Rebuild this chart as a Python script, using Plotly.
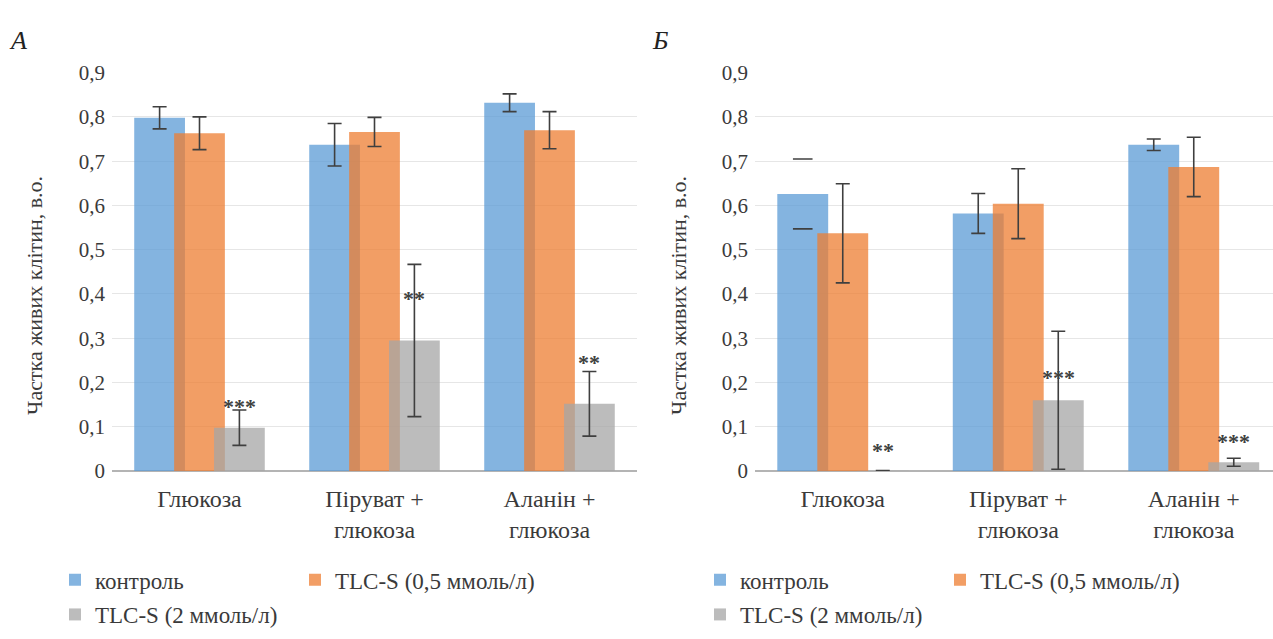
import plotly.graph_objects as go

# ---------------- data ----------------
categories = ["Глюкоза", "Піруват +<br>глюкоза", "Аланін +<br>глюкоза"]
series_names = ["контроль", "TLC-S (0,5 ммоль/л)", "TLC-S (2 ммоль/л)"]

# Panel A
A_control = [0.798, 0.737, 0.832]
A_control_err = [0.025, 0.048, 0.020]
A_tlc05 = [0.763, 0.766, 0.770]
A_tlc05_err = [0.037, 0.033, 0.042]
A_tlc2 = [0.098, 0.295, 0.152]
A_tlc2_err = [0.040, 0.172, 0.073]
A_sig = ["***", "**", "**"]
A_sig_level = [0.158, 0.400, 0.256]

# Panel Б
B_control = [0.626, 0.582, 0.737]
B_control_err = [0.079, 0.045, 0.013]
B_tlc05 = [0.537, 0.604, 0.687]
B_tlc05_err = [0.112, 0.079, 0.067]
B_tlc2 = [0.001, 0.160, 0.020]
B_tlc2_err = [0.0, 0.156, 0.009]
B_sig = ["**", "***", "***"]
B_sig_level = [0.058, 0.222, 0.078]

y_ticks = [0, 0.1, 0.2, 0.3, 0.4, 0.5, 0.6, 0.7, 0.8, 0.9]
y_title = "Частка живих клітин, в.о."

# ---------------- style ----------------
W, H = 1273, 639
FONT = "Liberation Serif, Times New Roman, DejaVu Serif, serif"
TXT = "#3a3a3a"
colors = ["rgba(91,155,213,0.75)", "rgba(237,125,49,0.75)", "rgba(165,165,165,0.75)"]
ERRC = "#3f3f3f"
STEP = 0.228      # distance between bar centres within a group (category units)
BW = 0.29         # bar width (category units)
centre_shift = [-STEP, 0.0, STEP]

x_pos = list(range(len(categories)))

fig = go.Figure()

def err_dict(arr):
    return dict(type="data", array=arr, visible=True, color=ERRC, thickness=1.6, width=7)

def add_panel(vals, errs, xaxis, yaxis, legends, caps_only_bar=None):
    for k in range(3):
        use_bar_err = not (caps_only_bar is not None and caps_only_bar[0] == k)
        fig.add_trace(go.Bar(
            x=x_pos, y=vals[k], name=series_names[k],
            xaxis=xaxis, yaxis=yaxis,
            width=BW, offset=centre_shift[k] - BW / 2,
            marker=dict(color=colors[k], line=dict(width=0)),
            error_y=err_dict(errs[k]) if use_bar_err else dict(visible=False),
            legend=legends[0] if k < 2 else legends[1],
            showlegend=True,
        ))
        if not use_bar_err:
            j = caps_only_bar[1]
            idx = [i for i in x_pos if i != j]
            fig.add_trace(go.Scatter(
                x=[x_pos[i] + centre_shift[k] for i in idx], y=[vals[k][i] for i in idx],
                xaxis=xaxis, yaxis=yaxis, mode="markers", showlegend=False, hoverinfo="skip",
                marker=dict(size=1, opacity=0), error_y=err_dict([errs[k][i] for i in idx]),
            ))
            # in the original this error bar shows only its two caps
            fig.add_trace(go.Scatter(
                x=[x_pos[j] + centre_shift[k]] * 2,
                y=[vals[k][j] + errs[k][j], vals[k][j] - errs[k][j]],
                xaxis=xaxis, yaxis=yaxis, mode="markers", showlegend=False, hoverinfo="skip",
                marker=dict(symbol="line-ew", size=14, line=dict(color=ERRC, width=1.6)),
            ))

add_panel([A_control, A_tlc05, A_tlc2], [A_control_err, A_tlc05_err, A_tlc2_err],
          "x", "y", ["legend", "legend2"])
add_panel([B_control, B_tlc05, B_tlc2], [B_control_err, B_tlc05_err, B_tlc2_err],
          "x2", "y2", ["legend3", "legend4"], caps_only_bar=(0, 0))

for xa, ya, sig, lev in [("x", "y", A_sig, A_sig_level), ("x2", "y2", B_sig, B_sig_level)]:
    for i in range(3):
        fig.add_annotation(x=x_pos[i] + centre_shift[2], y=lev[i], xref=xa, yref=ya,
                           text="<b>" + sig[i] + "</b>", showarrow=False, yanchor="middle",
                           yshift=-5, font=dict(family=FONT, size=22, color="#404040"))

yb, yt = 1 - 477 / H, 1 - 63 / H
axis_common = dict(
    tickvals=x_pos, ticktext=categories, showgrid=False, zeroline=False,
    showline=False, ticks="", tickfont=dict(family=FONT, size=24, color=TXT),
    ticklabelstandoff=11, fixedrange=True,
)
yaxis_common = dict(
    range=[0, 0.9], tickvals=y_ticks, showgrid=True, gridcolor="#e6e6e6", gridwidth=1,
    zeroline=True, zerolinecolor="#b4b4b4", zerolinewidth=2, showline=False,
    ticks="", tickfont=dict(family=FONT, size=21, color=TXT), ticklabelstandoff=6,
)

fig.update_layout(
    width=W, height=H, margin=dict(l=0, r=0, t=0, b=0),
    paper_bgcolor="white", plot_bgcolor="white",
    separators=", ", barmode="overlay", showlegend=True,
    xaxis=dict(domain=[112 / W, 637 / W], range=[-0.5, 2.5], anchor="y", **axis_common),
    yaxis=dict(domain=[yb, yt], anchor="x", **yaxis_common),
    xaxis2=dict(domain=[755 / W, 1.0], range=[-0.5, -0.5 + (W - 755) / 175.5], anchor="y2", **axis_common),
    yaxis2=dict(domain=[yb, yt], anchor="x2", **yaxis_common),
)

leg_font = dict(family=FONT, size=23, color=TXT)
for name, lx, ly in [("legend", 55 / W, 1 - 590 / H), ("legend2", 55 / W, 1 - 626 / H),
                     ("legend3", 700 / W, 1 - 590 / H), ("legend4", 700 / W, 1 - 626 / H)]:
    fig.update_layout({name: dict(
        orientation="h", x=lx, y=ly, xanchor="left", yanchor="middle",
        font=leg_font, bgcolor="rgba(0,0,0,0)", entrywidth=195, entrywidthmode="pixels",
        itemwidth=30, traceorder="normal",
    )})

for xp in [35 / W, 679 / W]:
    fig.add_annotation(x=xp, y=1 - 295 / H, xref="paper", yref="paper", text=y_title,
                       textangle=-90, showarrow=False, xanchor="center", yanchor="middle",
                       font=dict(family=FONT, size=22, color=TXT))
for txt, xp in [("А", 18 / W), ("Б", 660 / W)]:
    fig.add_annotation(x=xp, y=1 - 30 / H, xref="paper", yref="paper", text="<i>" + txt + "</i>",
                       showarrow=False, xanchor="center", yanchor="middle",
                       font=dict(family=FONT, size=26, color="#222"))

fig.write_html("out.html")
